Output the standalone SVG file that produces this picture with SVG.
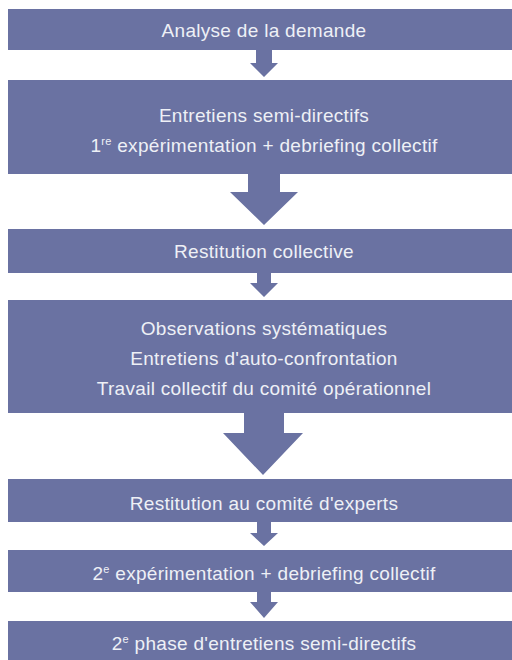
<svg xmlns="http://www.w3.org/2000/svg" width="512" height="660" viewBox="0 0 512 660">
<style>
.box{fill:#6a72a2}
.arr{fill:#6a72a2}
.t{font-family:"Liberation Sans",Arial,sans-serif;font-size:19px;letter-spacing:0.3px;fill:#eef0f6;text-anchor:middle}
.sup{font-size:11px}
</style>
<rect width="512" height="660" fill="#ffffff"/>
<g id="connectors">
<polygon class="arr" points="256,50 272,50 272,63 278,63 264,77 250,63 256,63"/>
<polygon class="arr" points="248,174 280,174 280,192 298,192 264,225 230,192 248,192"/>
<polygon class="arr" points="257,273 271,273 271,283 278,283 264,297 250,283 257,283"/>
<polygon class="arr" points="244,413 284,413 284,433 303,433 263,475 223,433 244,433"/>
<polygon class="arr" points="257,522 271,522 271,533 278,533 264,546 250,533 257,533"/>
<polygon class="arr" points="257,592 271,592 271,602 278,602 264,618 250,602 257,602"/>
</g>
<g id="n1">
<rect class="box" x="8" y="9" width="512" height="41"/>
<text class="t" x="264" y="37">Analyse de la demande</text>
</g>
<g id="n2">
<rect class="box" x="8" y="80" width="512" height="94"/>
<text class="t" x="264" y="122">Entretiens semi-directifs</text>
<text class="t" x="264" y="152">1<tspan class="sup" dy="-7">re</tspan><tspan dy="7"> expérimentation + debriefing collectif</tspan></text>
</g>
<g id="n3">
<rect class="box" x="8" y="229" width="512" height="44"/>
<text class="t" x="264" y="258">Restitution collective</text>
</g>
<g id="n4">
<rect class="box" x="8" y="300" width="512" height="113"/>
<text class="t" x="264" y="335">Observations systématiques</text>
<text class="t" x="264" y="365">Entretiens d'auto-confrontation</text>
<text class="t" x="264" y="395">Travail collectif du comité opérationnel</text>
</g>
<g id="n5">
<rect class="box" x="8" y="479" width="512" height="43"/>
<text class="t" x="264" y="510">Restitution au comité d'experts</text>
</g>
<g id="n6">
<rect class="box" x="8" y="550" width="512" height="42"/>
<text class="t" x="264" y="580">2<tspan class="sup" dy="-7">e</tspan><tspan dy="7"> expérimentation + debriefing collectif</tspan></text>
</g>
<g id="n7">
<rect class="box" x="8" y="621" width="512" height="45"/>
<text class="t" x="264" y="650">2<tspan class="sup" dy="-7">e</tspan><tspan dy="7"> phase d'entretiens semi-directifs</tspan></text>
</g>
</svg>
